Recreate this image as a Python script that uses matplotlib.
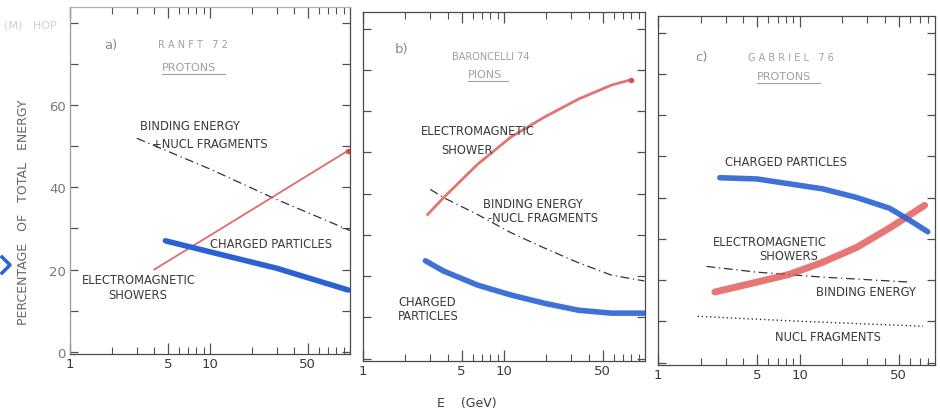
import matplotlib
matplotlib.use("Agg")
import matplotlib.pyplot as plt
from matplotlib.ticker import FixedLocator, NullFormatter, FixedFormatter

# ---- data (E in GeV, % of total energy) ----
# a) RANFT 72, protons
A_EM_E = [4.0, 10, 30, 97]
A_EM_Y = [20.0, 28.3, 38.3, 49.0]
A_CH_E = [4.8, 10, 30, 97]
A_CH_Y = [27.0, 24.3, 20.3, 15.0]
A_BN_E = [3.0, 10, 28, 100]
A_BN_Y = [52.0, 44.5, 37.5, 29.5]

# b) BARONCELLI 74, pions
B_EM_E = [2.87, 3.73, 6.5, 11.2, 19.3, 33.8, 58, 80]
B_EM_Y = [34.9, 39.0, 47.1, 53.7, 58.5, 62.9, 66.3, 67.6]
B_BN_E = [3.0, 3.73, 6.5, 11.2, 19.3, 33.8, 58, 99]
B_BN_Y = [41.0, 39.0, 34.9, 30.5, 26.8, 23.2, 20.2, 18.8]
B_CH_E = [2.77, 3.73, 6.5, 11.2, 19.3, 33.8, 58, 99]
B_CH_Y = [23.7, 21.2, 17.8, 15.4, 13.4, 11.7, 11.0, 11.0]

# c) GABRIEL 76, protons
C_CH_E = [2.73, 5.0, 8.5, 14.5, 25.2, 43, 59.5, 80]
C_CH_Y = [44.8, 44.5, 43.3, 42.1, 40.0, 37.4, 34.5, 31.7]
C_EM_E = [2.52, 5.0, 8.5, 14.5, 25.2, 43, 76]
C_EM_Y = [17.1, 19.5, 21.4, 24.3, 27.9, 32.6, 38.1]
C_BN_E = [2.2, 5.0, 14.5, 59.5]
C_BN_Y = [23.3, 21.9, 20.7, 19.5]
C_NF_E = [1.9, 10, 74]
C_NF_Y = [11.2, 10.0, 8.8]

W, H = 940, 414
BLUE = "#2a62d4"
RED = "#d9534f"
INK = "#3a3a3a"
FADE = "#a0a0a0"

plt.rcParams.update({
    "font.family": ["DejaVu Sans"],
    "font.size": 8.3,
    "axes.linewidth": 0.9,
    "axes.edgecolor": "#505050",
    "xtick.direction": "in", "ytick.direction": "in",
    "xtick.top": True, "ytick.right": True,
    "xtick.color": "#505050", "ytick.color": "#505050",
})

fig = plt.figure(figsize=(W / 100, H / 100), dpi=100)


def px(x, y):
    return x / W, 1 - y / H


def panel(x0, x1, ytop, ybot, xmax, ylabels):
    ax = fig.add_axes([x0 / W, 1 - ybot / H, (x1 - x0) / W, (ybot - ytop) / H])
    ax.set_xscale("log")
    ax.set_xlim(1, xmax)
    ax.set_ylim(-0.6, 84)
    major = [1, 5, 10, 50]
    minor = [v for v in list(range(2, 10)) + list(range(20, 100, 10))
             if v not in major and v < xmax]
    ax.xaxis.set_major_locator(FixedLocator(major))
    ax.xaxis.set_major_formatter(FixedFormatter(["1", "5", "10", "50"]))
    ax.xaxis.set_minor_locator(FixedLocator(minor))
    ax.xaxis.set_minor_formatter(NullFormatter())
    ax.tick_params(axis="x", which="major", length=8, width=0.9,
                   labelsize=9.5, labelcolor=INK, pad=2)
    ax.tick_params(axis="x", which="minor", length=5, width=0.8)
    ax.yaxis.set_major_locator(FixedLocator([0, 20, 40, 60]))
    ax.yaxis.set_minor_locator(FixedLocator([10, 30, 50, 70, 80]))
    ax.yaxis.set_minor_formatter(NullFormatter())
    ax.tick_params(axis="y", which="both", length=6, width=0.9,
                   labelsize=9.5, labelcolor="#777777", pad=3)
    if not ylabels:
        ax.set_yticklabels([])
    for s in ax.spines.values():
        s.set_color("#4a4a4a")
    return ax


axa = panel(70, 350, 8, 355, 100, True)
axb = panel(363, 645, 13, 362, 100, False)
axc = panel(658, 935, 17, 366, 90, False)
axa.spines["left"].set_color("#9a9a9a")
axa.spines["top"].set_color("#b0b0b0")

DASHDOT = (0, (7, 3, 1, 3))

# panel a
axa.plot(A_BN_E, A_BN_Y, color="#333333", lw=0.9, ls=DASHDOT)
axa.plot(A_EM_E, A_EM_Y, color=RED, lw=1.3, alpha=0.85)
axa.plot(A_EM_E[-1:], A_EM_Y[-1:], "o", color=RED, ms=3)
axa.plot(A_CH_E, A_CH_Y, color=BLUE, lw=4, solid_capstyle="round")

# panel b
axb.plot(B_BN_E, B_BN_Y, color="#333333", lw=0.9, ls=DASHDOT)
axb.plot(B_EM_E, B_EM_Y, color=RED, lw=2, alpha=0.8)
axb.plot(B_EM_E[-1:], B_EM_Y[-1:], "o", color=RED, ms=3)
axb.plot(B_CH_E, B_CH_Y, color=BLUE, lw=4, alpha=0.9, solid_capstyle="round")

# panel c
axc.plot(C_BN_E, C_BN_Y, color="#333333", lw=0.9, ls=DASHDOT)
axc.plot(C_NF_E, C_NF_Y, color="#333333", lw=1.0, ls=(0, (1, 2)))
axc.plot(C_EM_E, C_EM_Y, color="#e04848", lw=5, alpha=0.75, solid_capstyle="round")
axc.plot(C_CH_E, C_CH_Y, color=BLUE, lw=4, alpha=0.9, solid_capstyle="round")


def t(x, y, s, size=8.3, color=INK, **kw):
    fig.text(*px(x, y), s, fontsize=size, color=color, va="center", **kw)


def underline(x0, x1, y):
    fig.add_artist(plt.Line2D([x0 / W, x1 / W], [1 - y / H, 1 - y / H],
                              color=FADE, lw=0.8))


# scan remnants at the left edge
t(4, 25, "(M)   HOP", 8, "#cfcfcf")
fig.add_artist(plt.Line2D([2 / W, 10 / W, 2 / W],
                          [1 - 258 / H, 1 - 266 / H, 1 - 274 / H],
                          color=BLUE, lw=2.5, solid_joinstyle="round"))

# panel headers
t(104, 45, "a)", 9.5, "#888888")
t(158, 45, "R A N F T   7 2", 7, FADE)
t(162, 68, "PROTONS", 8, FADE)
underline(162, 225, 75)
t(395, 49, "b)", 9.5, "#888888")
t(452, 57, "BARONCELLI 74", 7, FADE)
t(468, 75, "PIONS", 8, FADE)
underline(468, 508, 82)
t(695, 58, "c)", 9.5, "#888888")
t(748, 58, "G A B R I E L   7 6", 7, FADE)
t(757, 77, "PROTONS", 8, FADE)
underline(757, 820, 84)

# curve labels
t(140, 127, "BINDING ENERGY")
t(152, 145, "+NUCL FRAGMENTS")
t(210, 245, "CHARGED PARTICLES")
t(82, 280, "ELECTROMAGNETIC")
t(108, 296, "SHOWERS")

t(421, 132, "ELECTROMAGNETIC")
t(441, 150, "SHOWER")
t(483, 205, "BINDING ENERGY")
t(488, 219, "-NUCL FRAGMENTS")
t(398, 303, "CHARGED")
t(398, 317, "PARTICLES")

t(725, 163, "CHARGED PARTICLES")
t(713, 243, "ELECTROMAGNETIC")
t(759, 257, "SHOWERS")
t(816, 293, "BINDING ENERGY")
t(775, 338, "NUCL FRAGMENTS")

# axis titles
t(24, 212, "PERCENTAGE   OF   TOTAL   ENERGY", 9, "#666666",
  rotation=90, ha="center")
t(467, 404, "E    (GeV)", 9, INK, ha="center")

fig.savefig("out.png", dpi=100)
